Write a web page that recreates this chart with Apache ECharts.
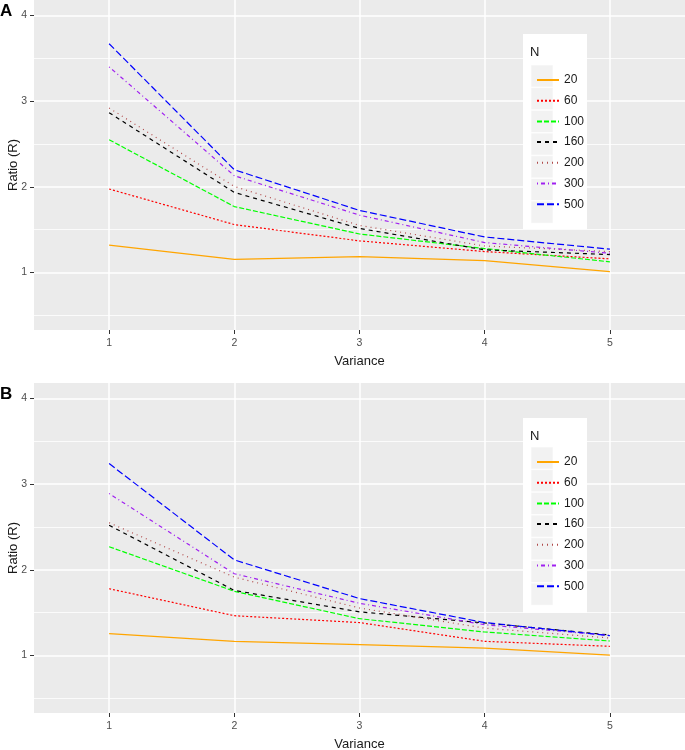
<!DOCTYPE html>
<html><head><meta charset="utf-8">
<script src="https://cdn.jsdelivr.net/npm/echarts@6/dist/echarts.min.js"></script>
<style>html,body{margin:0;padding:0;background:#fff}#c{width:685px;height:750px}</style>
</head><body><div id="c"></div>
<script>
// ---- data ----
const variances = [1, 2, 3, 4, 5];
const groupNames = ['20', '60', '100', '160', '200', '300', '500'];
const xTickValues = [1, 2, 3, 4, 5];
const yTickValues = [1, 2, 3, 4];
const yMinorValues = [0.5, 1.5, 2.5, 3.5];

// Panel A
const A_N20  = [1.32, 1.155, 1.185, 1.14, 1.01];
const A_N60  = [1.975, 1.56, 1.37, 1.245, 1.16];
const A_N100 = [2.55, 1.77, 1.45, 1.28, 1.125];
const A_N160 = [2.865, 1.935, 1.515, 1.265, 1.21];
const A_N200 = [2.92, 2.005, 1.55, 1.31, 1.245];
const A_N300 = [3.40, 2.13, 1.67, 1.35, 1.225];
const A_N500 = [3.67, 2.20, 1.725, 1.415, 1.273];

// Panel B
const B_N20  = [1.256, 1.166, 1.128, 1.087, 1.005];
const B_N60  = [1.78, 1.465, 1.385, 1.166, 1.108];
const B_N100 = [2.27, 1.75, 1.43, 1.275, 1.17];
const B_N160 = [2.52, 1.76, 1.51, 1.38, 1.24];
const B_N200 = [2.55, 1.915, 1.555, 1.32, 1.205];
const B_N300 = [2.89, 1.955, 1.61, 1.36, 1.235];
const B_N500 = [3.24, 2.116, 1.665, 1.385, 1.233];

const panelAValues = [A_N20, A_N60, A_N100, A_N160, A_N200, A_N300, A_N500];
const panelBValues = [B_N20, B_N60, B_N100, B_N160, B_N200, B_N300, B_N500];

// ---- styles ----
const lineColors = ['#FFA500', '#FF0000', '#00FF00', '#000000', '#B04A4A', '#A020F0', '#0000FF'];
const lineDashes = ['solid', [2, 2], [5, 2], [4, 4], [1, 4], [1, 3, 4, 3], [7, 3]];
const FONT = 'Liberation Sans, Arial, sans-serif';

const gridTops = [0, 383];
const panelHeight = 330;

function makeSeries(values, gi) {
  return values.map((arr, i) => {
    const s = {
      type: 'line',
      name: groupNames[i],
      xAxisIndex: gi, yAxisIndex: gi,
      data: arr.map((v, k) => [variances[k], v]),
      symbol: 'none', showSymbol: false,
      lineStyle: { color: lineColors[i], width: 1.2, type: lineDashes[i] },
      itemStyle: { color: lineColors[i] },
      z: 3
    };
    if (i === 0) {
      s.markLine = {
        silent: true, symbol: 'none', animation: false,
        label: { show: false },
        lineStyle: { color: '#FFFFFF', width: 0.8, type: 'solid' },
        emphasis: { disabled: true },
        data: yMinorValues.map(v => ({ yAxis: v })),
        z: 1
      };
    }
    return s;
  });
}

function xAxis(gi) {
  return {
    type: 'value', gridIndex: gi, min: 0.4, max: 5.6,
    axisLine: { show: false },
    axisTick: { show: true, length: 4, lineStyle: { color: '#333333' }, customValues: xTickValues },
    axisLabel: { color: '#4D4D4D', fontSize: 10.5, fontFamily: FONT, margin: 8, customValues: xTickValues },
    splitLine: { show: true, lineStyle: { color: '#FFFFFF', width: 1.5 } },
    name: 'Variance', nameLocation: 'middle', nameGap: 25, nameMoveOverlap: false,
    nameTextStyle: { color: '#1A1A1A', fontSize: 13, fontFamily: FONT }
  };
}
function yAxis(gi) {
  return {
    type: 'value', gridIndex: gi, min: 0.33, max: 4.18,
    axisLine: { show: false },
    axisTick: { show: true, length: 4, lineStyle: { color: '#333333' }, customValues: yTickValues },
    axisLabel: { color: '#4D4D4D', fontSize: 10.5, fontFamily: FONT, margin: 7, customValues: yTickValues },
    splitLine: { show: true, lineStyle: { color: '#FFFFFF', width: 1.5 } },
    name: 'Ratio (R)', nameLocation: 'middle', nameGap: 14, nameMoveOverlap: false,
    nameTextStyle: { color: '#1A1A1A', fontSize: 13, fontFamily: FONT }
  };
}

function legend(gi) {
  const top = gridTops[gi] + (gi === 0 ? 69 : 68);
  return {
    orient: 'vertical', left: 531, top: top,
    itemWidth: 22, itemHeight: 14, itemGap: 8.7,
    data: groupNames,
    itemStyle: { color: 'rgba(0,0,0,0)', borderWidth: 0, opacity: 0 },
    textStyle: { color: '#1A1A1A', fontSize: 12, fontFamily: FONT },
    selectedMode: false, z: 6
  };
}

function legendDecor(gi) {
  const boxTop = gi === 0 ? 34 : 418;
  const firstRow = gi === 0 ? 76 : 458;
  const els = [{
    type: 'rect', shape: { x: 523, y: boxTop, width: 64, height: 195 },
    style: { fill: '#FFFFFF' }, z: 4, silent: true
  }];
  for (let i = 0; i < groupNames.length; i++) {
    els.push({
      type: 'rect', shape: { x: 531, y: firstRow + i * 22.7 - 11, width: 22, height: 22 },
      style: { fill: '#F2F2F2', stroke: '#FFFFFF', lineWidth: 0.6 }, z: 5, silent: true
    });
  }
  els.push({
    type: 'text', x: 530, y: boxTop + 18, silent: true, z: 6,
    style: { text: 'N', fill: '#1A1A1A', fontSize: 13, fontFamily: FONT, verticalAlign: 'middle' }
  });
  return els;
}

const option = {
  animation: false,
  backgroundColor: '#FFFFFF',
  title: [
    { text: 'A', left: 0, top: 3, padding: 0, textStyle: { fontSize: 17, fontWeight: 'bold', color: '#000', fontFamily: FONT } },
    { text: 'B', left: 0, top: 386, padding: 0, textStyle: { fontSize: 17, fontWeight: 'bold', color: '#000', fontFamily: FONT } }
  ],
  grid: gridTops.map(t => ({
    left: 34, top: t, width: 651, height: panelHeight,
    show: true, backgroundColor: '#EBEBEB', borderWidth: 0,
    containLabel: false, outerBoundsMode: 'none'
  })),
  xAxis: [xAxis(0), xAxis(1)],
  yAxis: [yAxis(0), yAxis(1)],
  legend: [legend(0), legend(1)],
  graphic: [...legendDecor(0), ...legendDecor(1)],
  series: [...makeSeries(panelAValues, 0), ...makeSeries(panelBValues, 1)]
};

const chart = echarts.init(document.getElementById('c'), null, { renderer: 'canvas' });
chart.setOption(option);
</script>
</body></html>
